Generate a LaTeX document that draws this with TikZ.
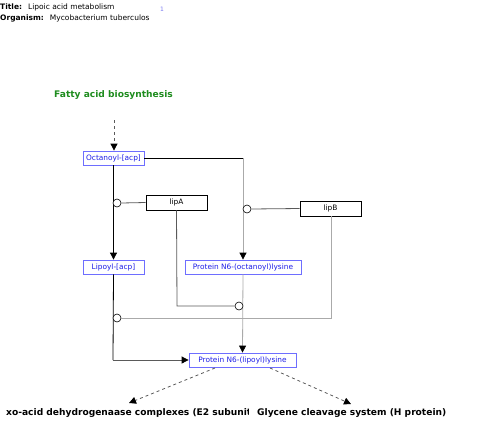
\documentclass[tikz,border=0pt]{standalone}
\usepackage{fontspec}
\setmainfont{DejaVu Sans}
\usetikzlibrary{arrows.meta}
\definecolor{bbord}{RGB}{110,110,255}
\definecolor{btext}{RGB}{30,30,230}
\definecolor{grn}{RGB}{30,140,30}
\definecolor{lg}{RGB}{170,170,170}
\definecolor{dg}{RGB}{90,90,90}
\tikzset{
  x=1pt,y=-1pt,
  cmp/.style={draw=bbord,line width=0.8pt,text=btext,font=\fontsize{7.4}{8}\selectfont,inner sep=0pt,minimum height=14pt},
  gene/.style={draw=black,line width=0.6pt,font=\fontsize{7.4}{8}\selectfont,inner sep=0pt,minimum height=15pt,minimum width=61pt},
  lbl/.style={font=\fontsize{9.1}{10}\bfseries\selectfont,inner sep=0pt},
  circ/.style={circle,draw=black,fill=white,line width=0.6pt,minimum size=8pt,inner sep=0pt},
  arr/.style={-{Triangle[length=7pt,width=7pt,color=black]}},
  ln/.style={line width=0.8pt}
}
\begin{document}
\begin{tikzpicture}
\useasboundingbox (0,0) rectangle (480,432);
% header
\node[anchor=west,inner sep=0pt,font=\fontsize{7.5}{8}\selectfont] (title) at (0,7) {\textbf{Title:}\hspace{6pt}Lipoic acid metabolism};
\node[anchor=west,inner sep=0pt,font=\fontsize{7.5}{8}\selectfont] (org) at (0,18) {\textbf{Organism:}\hspace{6pt}Mycobacterium tuberculos};
\node[inner sep=0pt,text=btext!60,font=\fontsize{6}{6}\selectfont] (one) at (162,9) {1};
% labels
\node[lbl,text=grn,anchor=west] (fab) at (54,95) {Fatty acid biosynthesis};
\coordinate (fabend) at (114,120);
% compounds
\node[cmp,minimum width=61pt] (oct) at (113.5,158) {Octanoyl-[acp]};
\node[cmp,minimum width=61pt] (lip) at (113.5,267) {Lipoyl-[acp]};
\node[cmp,minimum width=116pt] (poct) at (243,267) {Protein N6-(octanoyl)lysine};
\node[cmp,minimum width=107pt] (plip) at (242.5,360) {Protein N6-(lipoyl)lysine};
\node[gene] (lipA) at (176.5,202.5) {lipA};
\node[gene] (lipB) at (330.5,208.5) {lipB};
% bottom labels
\begin{scope}
\clip (0,400) rectangle (248,425);
\node[lbl,anchor=west] (oxo) at (6,413) {xo-acid dehydrogenaase complexes (E2 subunit)};
\end{scope}
\node[lbl,anchor=west] (gcs) at (257,413) {Glycene cleavage system (H protein)};
% edges
\draw[ln,dashed,arr,dg] (fabend) -- (oct.north -| fabend);
\draw[ln,arr] (oct.south) -- (lip.north);
\draw[ln] (oct.east) -- (243,158);
\draw[ln,lg,arr] (243,158) -- (poct.north);
\draw[ln,lg,arr] (poct.south) -- (plip.north);
\draw[ln] (lip.south) -- (113,360);
\draw[ln,dg,arr] (113,360) -- (plip.west);
% modifiers
\node[circ] (c1) at (117,203) {};
\node[circ] (c2) at (247,209) {};
\node[circ] (c3) at (239,306) {};
\node[circ] (c4) at (117,318) {};
\draw[ln,dg] (lipA.west) -- (c1.east);
\draw[ln,dg] (lipB.west) -- (c2.east);
\draw[ln,dg] (lipA.south) -- (177,306) -- (c3.west);
\draw[ln,lg] (lipB.south -| 331,0) -- (331,318) -- (c4.east);
% outputs
\draw[ln,dashed,dg,arr] (215,368) -- (129,403);
\draw[ln,dashed,dg,arr] (270,368) -- (351,404);
\end{tikzpicture}
\end{document}
